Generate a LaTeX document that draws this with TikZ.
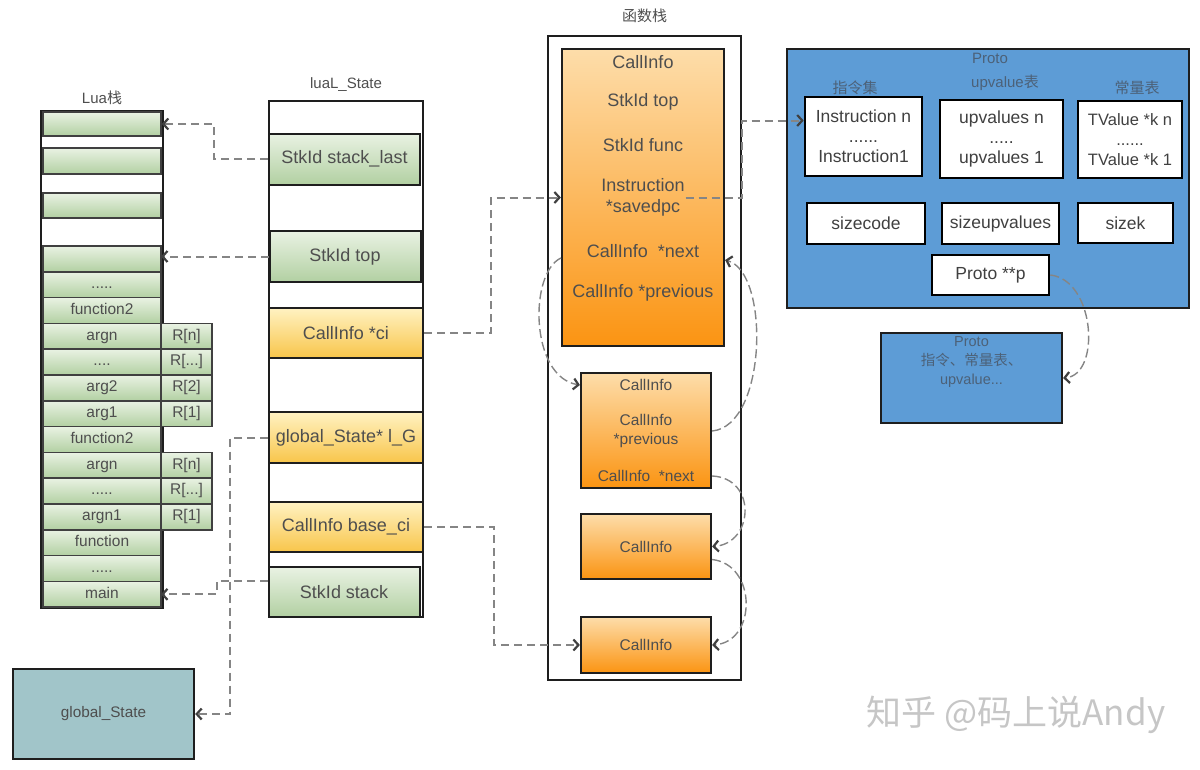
\documentclass[tikz,border=0pt]{standalone}
\usepackage{fontspec}
\setmainfont{Liberation Sans}
\newfontfamily\cjk{Noto Sans CJK SC}
\usetikzlibrary{arrows.meta, positioning, matrix}

\definecolor{txtgray}{HTML}{4E4E4E}
\definecolor{linegray}{HTML}{858585}
\definecolor{frame}{HTML}{1E1E1E}
\definecolor{greenA}{HTML}{E9F2E3}
\definecolor{greenB}{HTML}{B2D0A2}
\definecolor{yellowA}{HTML}{FFF2C2}
\definecolor{yellowB}{HTML}{F8C54A}
\definecolor{orangeA}{HTML}{FDDDAA}
\definecolor{orangeB}{HTML}{FB9412}
\definecolor{protoblue}{HTML}{5D9CD6}
\definecolor{gsteal}{HTML}{A1C5C9}
\definecolor{bluetxt}{HTML}{4C6178}

\begin{document}
\begin{tikzpicture}[x=1pt, y=-1pt,
    every node/.style={text=txtgray},
    frm/.style={draw=frame, line width=2.6pt, inner sep=0pt},
    cell/.style={draw=frame!85, line width=1.6pt, top color=greenA, bottom color=greenB,
        inner sep=0pt, font=\fontsize{15.5}{18}\selectfont},
    lstk/.style={matrix of nodes, ampersand replacement=\&,
        nodes={cell, minimum height=25.8pt, outer sep=0pt, anchor=center,
            text height=11pt, text depth=3.5pt},
        column sep=-1.6pt, row sep=-1.6pt,
        column 1/.style={nodes={minimum width=118pt}},
        column 2/.style={nodes={minimum width=51pt}}},
    fld/.style={draw=frame, line width=2pt, inner sep=0pt, minimum height=51pt,
        font=\fontsize{18}{21}\selectfont},
    gfld/.style={fld, top color=greenA, bottom color=greenB, minimum width=151pt},
    yfld/.style={fld, top color=yellowA, bottom color=yellowB, minimum width=154pt},
    cibox/.style={draw=frame, line width=2.2pt, top color=orangeA, bottom color=orangeB,
        inner sep=0pt, font=\fontsize{15.5}{18.5}\selectfont},
    ftxt/.style={inner sep=1pt, align=center, font=\fontsize{18}{21}\selectfont},
    stxt/.style={inner sep=1pt, align=center, font=\fontsize{15.5}{18.5}\selectfont},
    wbox/.style={draw=black, line width=2.6pt, fill=white, inner sep=0pt, align=center,
        text=black!75, font=\fontsize{17.5}{20}\selectfont},
    ttl/.style={inner sep=0pt, font=\fontsize{15}{18}\selectfont},
    ptl/.style={inner sep=0pt, text=bluetxt, font=\fontsize{15}{18}\selectfont},
    ptr/.style={draw=linegray, line width=2pt, dash pattern=on 8pt off 5pt,
        -{Straight Barb[length=5pt, width=11pt, line width=2.2pt, color=frame!85]}},
    cptr/.style={ptr, line width=1.4pt, dash pattern=on 9pt off 4pt}
]
\useasboundingbox (0,0) rectangle (1200,769);

% Lua stack
\node[frm, minimum width=122pt, minimum height=497pt] (luastk) at (102,359.5) {};
\node[ttl, above=5pt of luastk] (luattl) {Lua{\cjk 栈}};
\node[cell, minimum width=118pt, minimum height=24pt] (c1) at (102,124) {};
\node[cell, minimum width=118pt, minimum height=26pt] (c2) at (102,161) {};
\node[cell, minimum width=118pt, minimum height=25pt] (c3) at (102,205.5) {};
\matrix[lstk, anchor=north west, inner sep=0pt, outer sep=0pt] (L) at (42.2,245.2) {
    \mbox{} \& \\
    ..... \& \\
    function2 \& \\
    argn \& R[n] \\
    .... \& R[...] \\
    arg2 \& R[2] \\
    arg1 \& R[1] \\
    function2 \& \\
    argn \& R[n] \\
    ..... \& R[...] \\
    argn1 \& R[1] \\
    function \& \\
    ..... \& \\
    main \& \\
};

% luaL_State
\node[frm, minimum width=154pt, minimum height=516pt] (ls) at (346,359) {};
\node[ttl, above=8pt of ls] (lsttl) {luaL\_State};
\node[gfld] (sl) at (344.5,159) {StkId stack\_last};
\node[gfld] (stop) at (345,256.5) {StkId top};
\node[yfld, minimum height=50pt] (ci) at (346,333) {CallInfo *ci};
\node[yfld] (lg) at (346,437.5) {global\_State* l\_G};
\node[yfld, minimum height=50pt] (bci) at (346,527) {CallInfo base\_ci};
\node[gfld, minimum height=50pt] (stk) at (344,592) {StkId stack};

% global_State
\node[draw=frame, line width=2.4pt, fill=gsteal, minimum width=181pt, minimum height=90pt,
    font=\fontsize{15.3}{18}\selectfont] (gs) at (103.5,714) {global\_State};

% function stack
\node[frm, minimum width=193pt, minimum height=644pt] (fs) at (644.5,358) {};
\node[ttl, above=12pt of fs] (fsttl) {\cjk 函数栈};
\node[cibox, minimum width=162pt, minimum height=297pt] (ci0) at (643,197.5) {};
\node[ftxt] (cinfo) at (643,62) {CallInfo};
\node[ftxt, on grid, below=40pt of cinfo] (ctop) {StkId top};
\node[ftxt, on grid, below=43pt of ctop] (cfunc) {StkId func};
\node[ftxt, on grid, below=52.5pt of cfunc] (csaved) {Instruction\\*savedpc};
\node[ftxt, on grid, below=53.5pt of csaved] (cnext) {CallInfo\ \ *next};
\node[ftxt, on grid, below=42pt of cnext] (cprev) {CallInfo *previous};

\node[cibox, minimum width=130pt, minimum height=115pt] (b2) at (646,430.5) {};
\node[stxt] (b2a) at (646,385) {CallInfo};
\node[stxt, on grid, below=46pt of b2a] (b2prev) {CallInfo\\*previous};
\node[stxt, on grid, below=45pt of b2prev] (b2next) {CallInfo\ \ *next};
\node[cibox, minimum width=130pt, minimum height=65pt] (b3) at (646,546.5) {CallInfo};
\node[cibox, minimum width=130pt, minimum height=56pt] (b4) at (646,645) {CallInfo};

% Proto
\node[draw=frame, line width=2.2pt, fill=protoblue, minimum width=402pt, minimum height=259pt] (pr) at (988,178.5) {};
\node[ptl] (prttl) at (990,58) {Proto};
\node[ptl] (insttl) at (855,88) {\cjk 指令集};
\node[ptl] (upvttl) at (1005,83) {upvalue{\cjk 表}};
\node[ptl] (kttl) at (1137,88) {\cjk 常量表};
\node[wbox, minimum width=117pt, minimum height=79pt] (ins) at (863.5,136.5) {Instruction n\\......\\Instruction1};
\node[wbox, minimum width=123pt, minimum height=78pt] (upv) at (1001.5,139) {upvalues n\\.....\\upvalues 1};
\node[wbox, minimum width=104pt, minimum height=77pt, font=\fontsize{16.5}{20}\selectfont] (tv) at (1130,139.5) {TValue *k n\\......\\TValue *k 1};
\node[wbox, minimum width=118pt, minimum height=41pt] (szc) at (866,223.5) {sizecode};
\node[wbox, minimum width=117pt, minimum height=41pt] (szu) at (1000.5,223.5) {sizeupvalues};
\node[wbox, minimum width=95pt, minimum height=40pt] (szk) at (1125.5,223) {sizek};
\node[wbox, minimum width=117pt, minimum height=40pt] (pp) at (990.5,275) {Proto **p};

\node[draw=frame, line width=2.2pt, fill=protoblue, minimum width=181pt, minimum height=90pt] (sp) at (971.5,378) {};
\node[ptl, align=center, font=\fontsize{14.5}{19}\selectfont, below=4pt of sp.north] (sptxt) {Proto\\{\cjk 指令、常量表、}\\upvalue...};

% watermark
\node[text=gray!45, font=\cjk\fontsize{35}{38}\selectfont] (wm) at (1016,715) {知乎 @码上说Andy};

% pointers
\coordinate[yshift=-7pt] (nxl) at (ci0.west |- cnext);
\coordinate[yshift=-9pt] (nxr) at (ci0.east |- cnext);
\draw[ptr] (sl.west) -- ++(-54,0) |- (c1.east);
\draw[ptr] (stop.west) -- (stop.west -| L-1-1.east);
\draw[ptr] ([yshift=11pt]stk.west) -- ++(-51,0) |- (L-14-1.east);
\draw[ptr] (lg.west) -- ++(-38,0) |- (gs.east);
\draw[ptr] (ci.east) -- ++(67,0) |- (csaved -| ci0.west);
\draw[ptr] (bci.east) -- ++(70,0) |- (b4.west);
\draw[ptr] (csaved.east) -- ++(56,0) |- ([yshift=16pt]ins.west);
\draw[cptr] (pp.east) .. controls +(45,5) and +(38,-3) .. (sp.east);
\draw[cptr] (nxl) .. controls +(-32,15) and +(-50,-8) .. (b2.west |- b2a);
\draw[cptr] (b2.east |- b2prev) .. controls +(55,-5) and +(45,12) .. (nxr);
\draw[cptr] (b2.east |- b2next) .. controls +(45,2) and +(42,-3) .. (b3.east);
\draw[cptr] ([yshift=-13pt]b3.east) .. controls +(45,5) and +(45,-3) .. (b4.east);
\end{tikzpicture}
\end{document}
